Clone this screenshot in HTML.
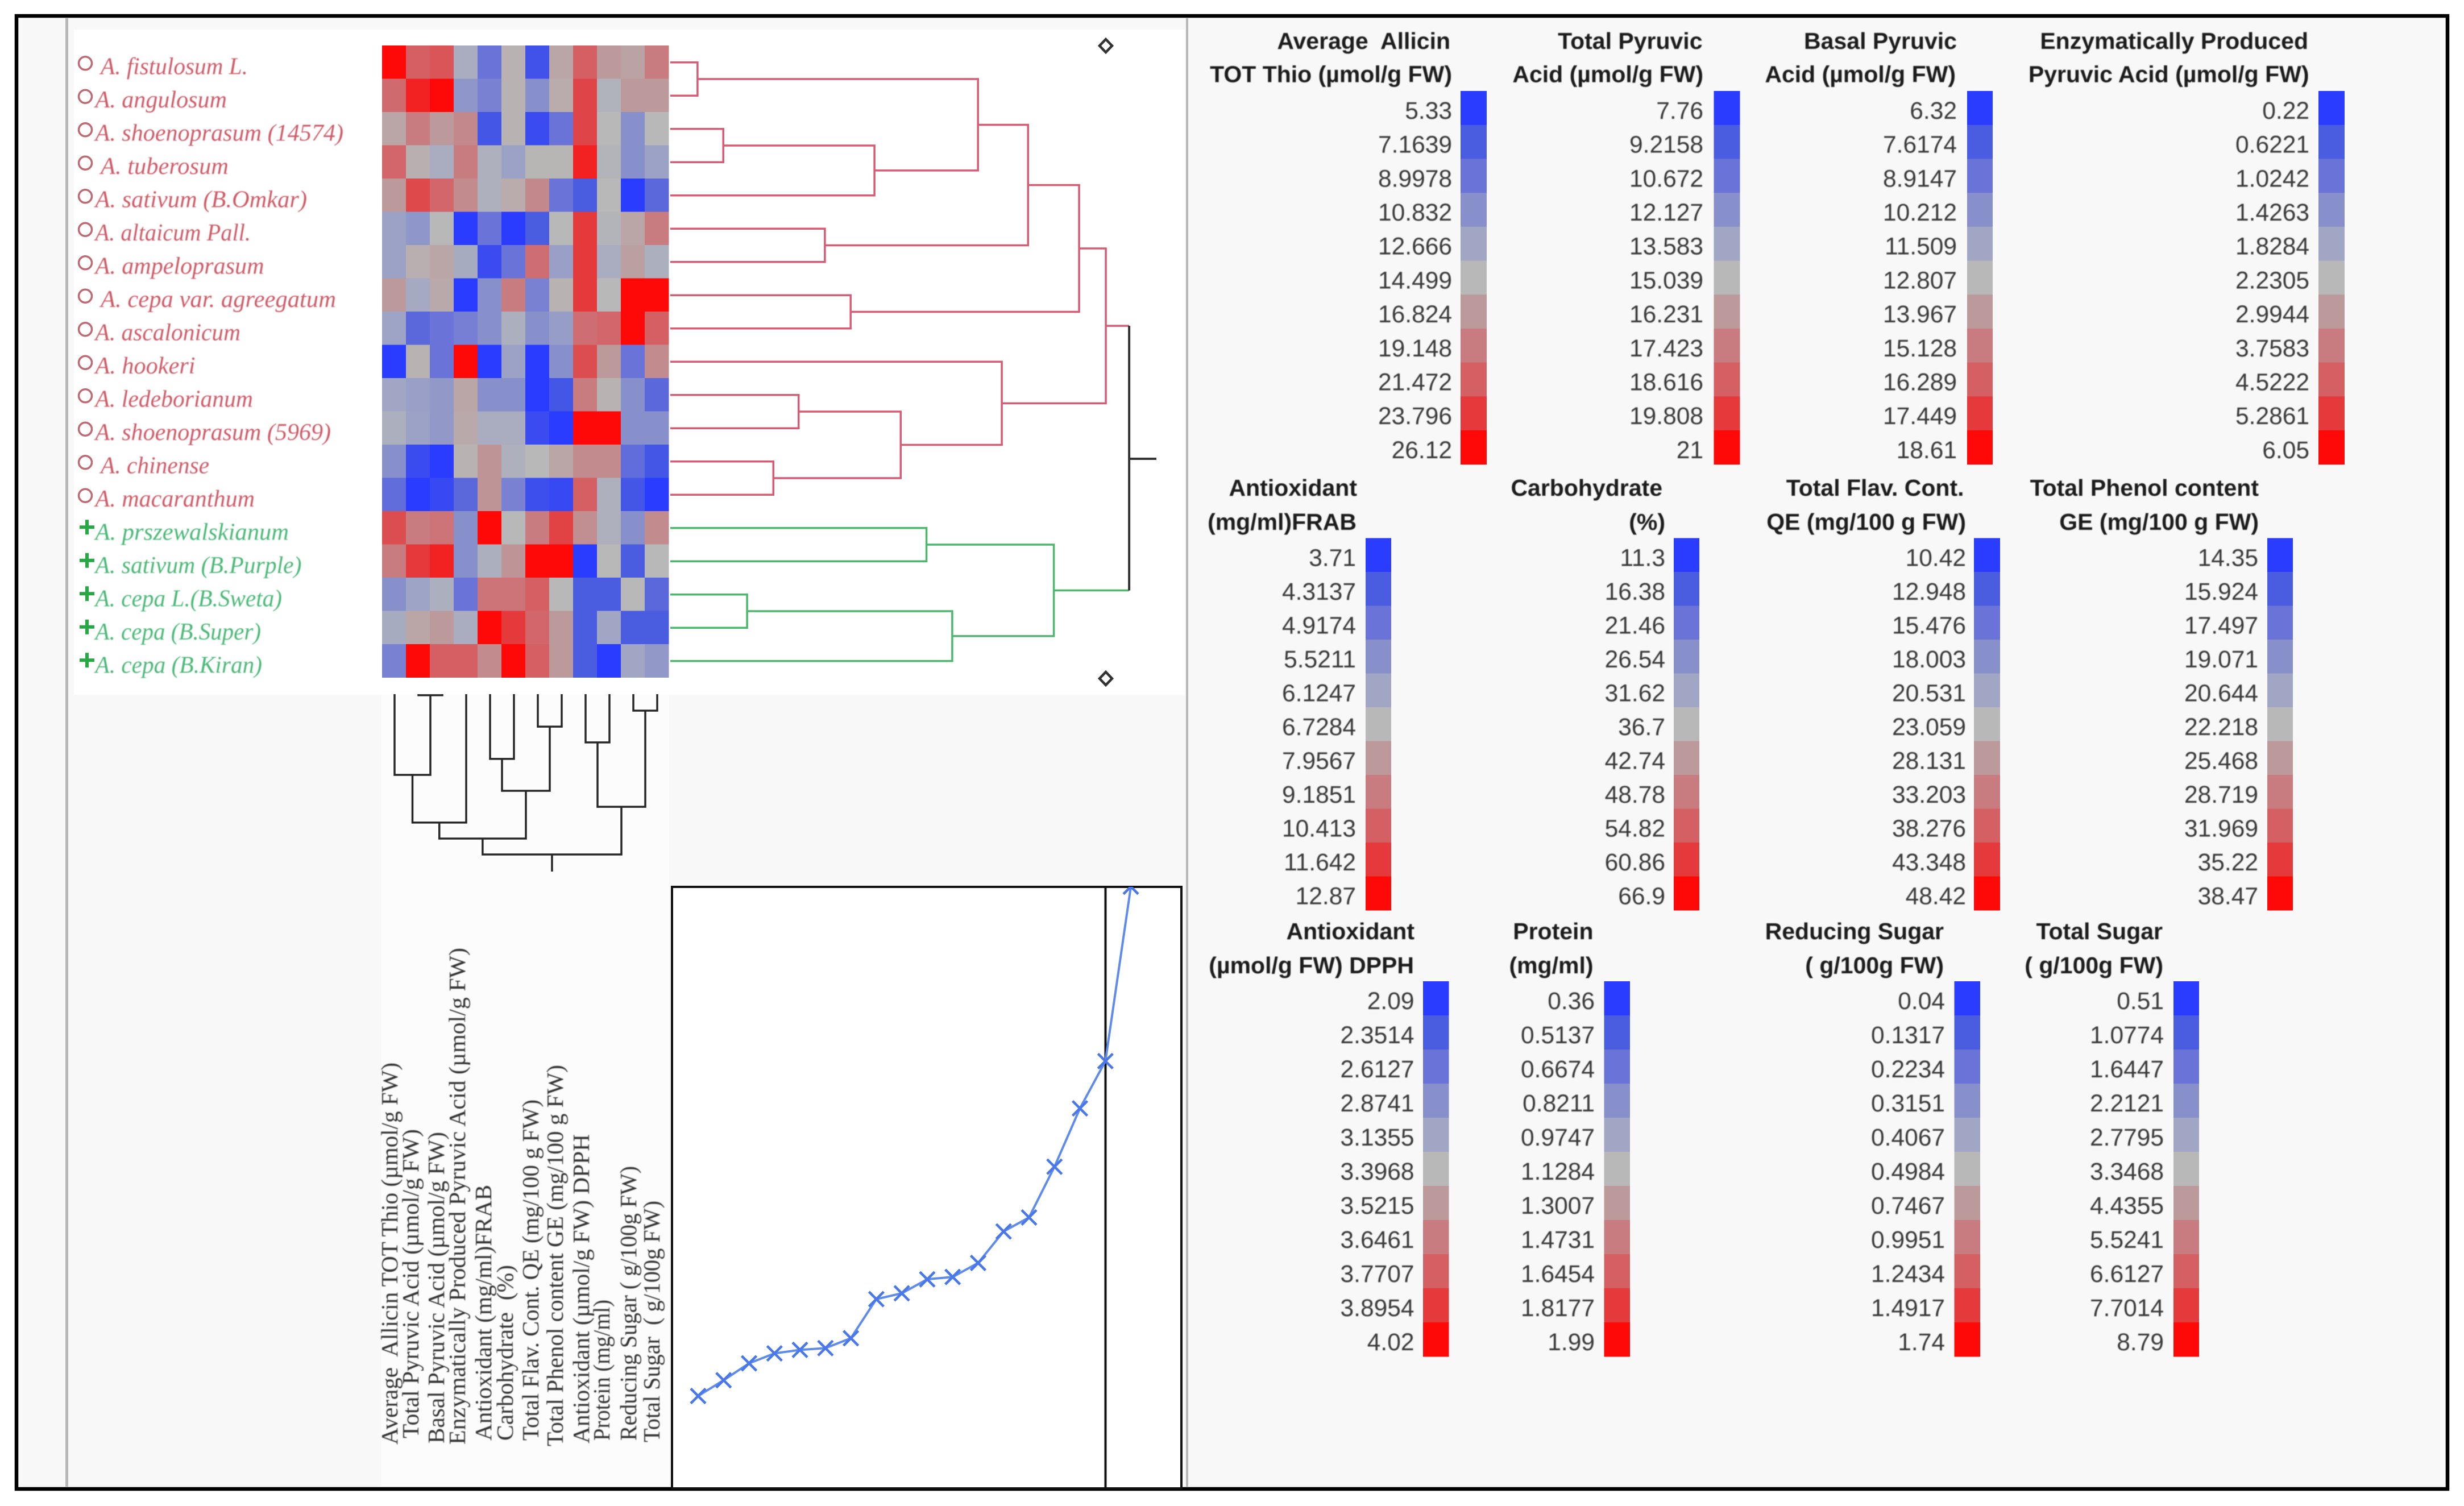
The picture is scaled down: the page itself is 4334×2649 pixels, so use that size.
<!DOCTYPE html>
<html lang="en">
<head>
<meta charset="utf-8">
<title>Allium hierarchical clustering</title>
<style>
html,body{margin:0;padding:0;background:#fff;}
svg{display:block;}
.sp{font-family:"Liberation Serif",serif;font-style:italic;font-size:42px;filter:blur(0.8px);}
.var{font-family:"Liberation Serif",serif;font-size:41px;fill:#333;white-space:pre;filter:blur(0.8px);}
.lt{font-family:"Liberation Sans",sans-serif;font-weight:bold;font-size:41px;fill:#1c1c1c;text-anchor:end;white-space:pre;filter:blur(0.7px);}
.lv{font-family:"Liberation Sans",sans-serif;font-size:42.5px;fill:#3a3a3a;text-anchor:end;filter:blur(0.7px);}
</style>
</head>
<body>
<svg id="fig" xmlns="http://www.w3.org/2000/svg" width="4334" height="2649" viewBox="0 0 4334 2649">
  <rect x="0" y="0" width="4334" height="2649" fill="#ffffff"/>
  <rect x="29" y="28" width="4276" height="2591" fill="#f8f8f8" stroke="#000000" stroke-width="6.5"/>
  <rect x="130" y="52" width="1954" height="1170" fill="#ffffff"/>
  <rect x="671" y="1222" width="506" height="1393" fill="#fcfcfc"/>
  <rect x="115" y="32" width="5" height="2584" fill="#b8b8b8"/>
  <rect x="2086" y="32" width="4" height="2584" fill="#b8b8b8"/>
  <g id="heatmap"></g>
  <g id="species"></g>
  <g id="rowDendro"></g>
  <g id="colDendro"></g>
  <g id="vars"></g>
  <path d="M1945 69 L1956 80.5 L1945 92 L1934 80.5 Z" fill="#fff" stroke="#333" stroke-width="4.5"/>
  <path d="M1945 1182 L1956 1193.5 L1945 1205 L1934 1193.5 Z" fill="#fff" stroke="#333" stroke-width="4.5"/>
  <g id="distance"></g>
  <g id="legends"></g>
</svg>
<script>
/* ---------- heatmap data ---------- */
const speciesNames = ["A. fistulosum L.","A. angulosum","A. shoenoprasum (14574)","A. tuberosum","A. sativum (B.Omkar)","A. altaicum Pall.","A. ampeloprasum","A. cepa var. agreegatum","A. ascalonicum","A. hookeri","A. ledeborianum","A. shoenoprasum (5969)","A. chinense","A. macaranthum","A. prszewalskianum","A. sativum (B.Purple)","A. cepa L.(B.Sweta)","A. cepa (B.Super)","A. cepa (B.Kiran)"];
const speciesGroups = ["o","o","o","o","o","o","o","o","o","o","o","o","o","o","+","+","+","+","+"];
const variableNames = ["Average  Allicin TOT Thio (µmol/g FW)","Total Pyruvic Acid (µmol/g FW)","Basal Pyruvic Acid (µmol/g FW)","Enzymatically Produced Pyruvic Acid (µmol/g FW)","Antioxidant (mg/ml)FRAB","Carbohydrate  (%)","Total Flav. Cont. QE (mg/100 g FW)","Total Phenol content GE (mg/100 g FW)","Antioxidant (µmol/g FW) DPPH","Protein (mg/ml)","Reducing Sugar ( g/100g FW)","Total Sugar  ( g/100g FW)"];
const heatRow00 = [10,8,8.3,4.4,2,5.2,0.7,5.6,8,6,5.7,7];
const heatRow01 = [7.6,9.5,10,3.3,2.5,5.2,3,5.4,8.7,4.7,6,6];
const heatRow02 = [5.6,7,6,6.6,0.8,5.2,0.5,2,8.7,5,3,5];
const heatRow03 = [7.8,5.3,4.4,7,4.6,3.8,5.1,5.1,9.5,4.8,3,3.8];
const heatRow04 = [6,8.6,7.8,6.5,4.6,5.4,6.6,2,1,5,0,1.5];
const heatRow05 = [3.8,3.3,5,0,2,0,1,5,9,4.8,5.6,7];
const heatRow06 = [3.8,5.3,5.6,4.3,0.5,2,7.5,3.7,9,4.4,5.8,4.5];
const heatRow07 = [6,4.2,5.5,0,3,7,2.5,5.2,9,5,10,10];
const heatRow08 = [3.9,1.5,2,2.4,3,4.5,3,3.6,7.5,7.8,10,8];
const heatRow09 = [0,5.2,2,10,0,3.8,0,3,8.5,6,2,6.5];
const heatRow10 = [4,3.7,3.4,5.6,3,3,0,0.8,7,5.2,3,1.5];
const heatRow11 = [4.5,3.8,3.4,5.5,4.4,4.4,0.5,0,10,10,3,3];
const heatRow12 = [3,0.5,0,5.2,6.2,4.6,5,5.6,6.5,6.5,1.7,0.8];
const heatRow13 = [1.7,0,0.4,1.5,6.2,2.5,0.6,0.4,8,4.6,0.8,0];
const heatRow14 = [8.5,7,7.3,3,10,5,7,8.8,6.4,4.6,3,6.5];
const heatRow15 = [7,9,9.5,3,4.5,6.2,10,10,0,5,1,5];
const heatRow16 = [3,3.9,4.5,2,7.3,7.3,8,5,1,1,5,1.5];
const heatRow17 = [4.3,5.6,6,4.4,10,9,7.8,6,1,4,1,1];
const heatRow18 = [2.5,10,8,8,6.5,10,8,6,1,0,4,3.4];
const heatValues = [heatRow00,heatRow01,heatRow02,heatRow03,heatRow04,heatRow05,heatRow06,heatRow07,heatRow08,heatRow09,heatRow10,heatRow11,heatRow12,heatRow13,heatRow14,heatRow15,heatRow16,heatRow17,heatRow18];
const paletteSteps = ["#2a3cff","#4a5ce0","#6a74d8","#8890cc","#a0a6c4","#b8b8b8","#bc9a9c","#c87c80","#d46064","#e43a3c","#ff0808"];

/* ---------- dendrogram data: [child a, child b, merge distance (0..1)] ---------- */
const rowMerges = [[0,1,.056],[2,3,.109],[20,4,.420],[19,21,.633],[5,6,.318],[22,23,.736],[7,8,.371],[24,25,.841],[10,11,.264],[12,13,.212],[27,28,.474],[9,29,.682],[26,30,.896],[14,15,.527],[16,17,.158],[33,18,.580],[32,34,.789],[31,35,.944]];
const colMerges = [[1,2,.006],[0,12,.455],[13,3,.724],[4,5,.365],[6,7,.183],[15,16,.545],[14,17,.814],[8,9,.272],[10,11,.093],[19,20,.635],[18,21,.904]];

/* ---------- distance graph data ---------- */
const joinDistances = [.127,.154,.183,.200,.206,.209,.226,.293,.303,.327,.331,.355,.409,.433,.520,.620,.701,1.0];

/* ---------- legend data ---------- */
const legendTitleA = ["Average  Allicin","Total Pyruvic","Basal Pyruvic","Enzymatically Produced","Antioxidant","Carbohydrate","Total Flav. Cont.","Total Phenol content","Antioxidant","Protein","Reducing Sugar","Total Sugar"];
const legendTitleB = ["TOT Thio (µmol/g FW)","Acid (µmol/g FW)","Acid (µmol/g FW)","Pyruvic Acid (µmol/g FW)","(mg/ml)FRAB","(%)","QE (mg/100 g FW)","GE (mg/100 g FW)","(µmol/g FW) DPPH","(mg/ml)","( g/100g FW)","( g/100g FW)"];
const legendTicks00 = ["5.33","7.1639","8.9978","10.832","12.666","14.499","16.824","19.148","21.472","23.796","26.12"];
const legendTicks01 = ["7.76","9.2158","10.672","12.127","13.583","15.039","16.231","17.423","18.616","19.808","21"];
const legendTicks02 = ["6.32","7.6174","8.9147","10.212","11.509","12.807","13.967","15.128","16.289","17.449","18.61"];
const legendTicks03 = ["0.22","0.6221","1.0242","1.4263","1.8284","2.2305","2.9944","3.7583","4.5222","5.2861","6.05"];
const legendTicks04 = ["3.71","4.3137","4.9174","5.5211","6.1247","6.7284","7.9567","9.1851","10.413","11.642","12.87"];
const legendTicks05 = ["11.3","16.38","21.46","26.54","31.62","36.7","42.74","48.78","54.82","60.86","66.9"];
const legendTicks06 = ["10.42","12.948","15.476","18.003","20.531","23.059","28.131","33.203","38.276","43.348","48.42"];
const legendTicks07 = ["14.35","15.924","17.497","19.071","20.644","22.218","25.468","28.719","31.969","35.22","38.47"];
const legendTicks08 = ["2.09","2.3514","2.6127","2.8741","3.1355","3.3968","3.5215","3.6461","3.7707","3.8954","4.02"];
const legendTicks09 = ["0.36","0.5137","0.6674","0.8211","0.9747","1.1284","1.3007","1.4731","1.6454","1.8177","1.99"];
const legendTicks10 = ["0.04","0.1317","0.2234","0.3151","0.4067","0.4984","0.7467","0.9951","1.2434","1.4917","1.74"];
const legendTicks11 = ["0.51","1.0774","1.6447","2.2121","2.7795","3.3468","4.4355","5.5241","6.6127","7.7014","8.79"];
const legendTicks = [legendTicks00,legendTicks01,legendTicks02,legendTicks03,legendTicks04,legendTicks05,legendTicks06,legendTicks07,legendTicks08,legendTicks09,legendTicks10,legendTicks11];

/* ---------- helpers ---------- */
const NS = "http://www.w3.org/2000/svg";
function mk(parent, tag, attrs, txt){
  const e = document.createElementNS(NS, tag);
  for (const k in attrs) e.setAttribute(k, attrs[k]);
  if (txt !== undefined) e.textContent = txt;
  parent.appendChild(e);
  return e;
}
function hex(c){ return [parseInt(c.slice(1,3),16),parseInt(c.slice(3,5),16),parseInt(c.slice(5,7),16)]; }
function heatColor(v){
  const t = Math.max(0, Math.min(10, v));
  const i = Math.min(9, Math.floor(t)), f = t - i;
  const a = hex(paletteSteps[i]), b = hex(paletteSteps[i+1]);
  return "rgb(" + a.map((x,n)=>Math.round(x+(b[n]-x)*f)).join(",") + ")";
}

/* ---------- axes ---------- */
const heatLeft = 672, heatTop = 80, cellW = 42, cellH = 58.5;
const colX = i => heatLeft + cellW * (i + 0.5);
const rowY = i => heatTop + cellH * (i + 0.5);
const rowDistX = d => 1179 + d * 855;
const colDistY = d => 1221 + d * 312;
const joinX = i => 1228 + i * 44.77;
const joinY = d => 2585.8 - d * 1026.2;

/* ---------- heatmap ---------- */
const heatG = document.getElementById("heatmap");
heatValues.forEach((row, r) => row.forEach((v, c) => {
  const cell = mk(heatG, "rect", {x: heatLeft + c*cellW, y: heatTop + r*cellH, width: cellW + 0.5, height: cellH + 0.5, fill: heatColor(v)});
  
  
}));

/* ---------- species labels ---------- */
const speciesIndent = [177,167.5,167.5,177,167.5,167.5,167.5,177,167.5,167.5,167.5,167.5,177,167.5,167.5,167.5,167.5,167.5,167.5];
const speciesWidth = [259,231.5,436.5,225,372.5,273.5,297,414,255.5,176,277.5,414.5,191,280.5,340.5,363,328.5,291.5,293.5];
const spG = document.getElementById("species");
speciesNames.forEach((name, i) => {
  const y = rowY(i);
  const isRed = speciesGroups[i] === "o";
  const label = mk(spG, "text", {class: "sp", x: speciesIndent[i], y: y + 21, fill: isRed ? "#cc5c68" : "#4cb878", textLength: speciesWidth[i], lengthAdjust: "spacingAndGlyphs"}, name);
  
  
  if (isRed) {
    const mark = mk(spG, "circle", {cx: 150, cy: y + 2, r: 11.5, fill: "none", stroke: "#bf6a72", "stroke-width": 3.5});
    
    
  } else {
    const mark = mk(spG, "path", {d: "M140 " + (y-1) + " H166 M153 " + (y-14) + " V" + (y+12), fill: "none", stroke: "#28a845", "stroke-width": 6});
    
    
  }
});

/* ---------- row dendrogram ---------- */
const rowG = document.getElementById("rowDendro");
const rowNodes = speciesNames.map((n, i) => ({y: rowY(i) + 0.5, x: rowDistX(0), g: speciesGroups[i]}));
const armColor = g => g === "o" ? "#d65c74" : "#4cb86c";
rowMerges.forEach(m => {
  const a = rowNodes[m[0]], b = rowNodes[m[1]];
  const x = rowDistX(m[2]);
  if (a.g === b.g) {
    const seg = mk(rowG, "path", {d: "M" + a.x + " " + a.y + " H" + x + " V" + b.y + " H" + b.x, fill: "none", stroke: armColor(a.g), "stroke-width": 3.5});
    
    
  } else {
    const armA = mk(rowG, "path", {d: "M" + a.x + " " + a.y + " H" + x, fill: "none", stroke: armColor(a.g), "stroke-width": 3.5});
    
    
    const armB = mk(rowG, "path", {d: "M" + b.x + " " + b.y + " H" + x, fill: "none", stroke: armColor(b.g), "stroke-width": 3.5});
    
    
    const spine = mk(rowG, "path", {d: "M" + x + " " + a.y + " V" + b.y + " M" + x + " 807 H" + rowDistX(1), fill: "none", stroke: "#333333", "stroke-width": 4});
    
    
  }
  rowNodes.push({y: (a.y + b.y) / 2, x: x, g: a.g === b.g ? a.g : "r"});
});

/* ---------- column dendrogram ---------- */
const colG = document.getElementById("colDendro");
const colNodes = variableNames.map((n, i) => ({x: colX(i) + 1, y: colDistY(0)}));
colMerges.forEach(m => {
  const a = colNodes[m[0]], b = colNodes[m[1]];
  const y = colDistY(m[2]);
  const seg = mk(colG, "path", {d: "M" + a.x + " " + a.y + " V" + y + " H" + b.x + " V" + b.y, fill: "none", stroke: "#262626", "stroke-width": 3.5});
  
  
  colNodes.push({x: (a.x + b.x) / 2, y: y});
});
const colRootNode = colNodes[colNodes.length - 1];
const colStem = mk(colG, "path", {d: "M" + colRootNode.x + " " + colRootNode.y + " V" + colDistY(1), fill: "none", stroke: "#262626", "stroke-width": 3.5});



/* ---------- rotated variable labels ---------- */
const varBaseline = [699,736,781,818,864,902,947,990,1036,1072,1119,1160];
const varBottom = [2541,2530,2539,2541,2534,2534,2534,2544,2539,2534,2534,2537];
const varTop = [1869,1986,1991,1667,2084,2225,1934,1873,1995,2286,2051,2112];
const varG = document.getElementById("vars");
variableNames.forEach((name, i) => {
  const t = mk(varG, "text", {class: "var", x: varBaseline[i], y: varBottom[i], transform: "rotate(-90 " + varBaseline[i] + " " + varBottom[i] + ")", textLength: varBottom[i] - varTop[i], lengthAdjust: "spacingAndGlyphs"}, name);
  
  
});

/* ---------- distance graph ---------- */
const distG = document.getElementById("distance");
const clipDefs = mk(distG, "clipPath", {id: "distClip"});
mk(clipDefs, "rect", {x: 1182, y: 1560, width: 896, height: 1056});
const distBox = mk(distG, "rect", {x: 1182, y: 1560, width: 896, height: 1058, fill: "#ffffff", stroke: "#111111", "stroke-width": 4});


const cutLine = mk(distG, "line", {x1: 1944.5, y1: 1560, x2: 1944.5, y2: 2616, stroke: "#111111", "stroke-width": 4});


const distClipped = mk(distG, "g", {"clip-path": "url(#distClip)"});
const distPath = mk(distClipped, "polyline", {points: joinDistances.map((d, i) => joinX(i) + "," + joinY(d)).join(" "), fill: "none", stroke: "#5f8cec", "stroke-width": 4});


joinDistances.forEach((d, i) => {
  const x = joinX(i), y = joinY(d), s = 13;
  const marker = mk(distClipped, "path", {d: "M" + (x-s) + " " + (y-s) + " L" + (x+s) + " " + (y+s) + " M" + (x-s) + " " + (y+s) + " L" + (x+s) + " " + (y-s), fill: "none", stroke: "#4a78ea", "stroke-width": 4.5});
  
  
});

/* ---------- legends ---------- */
const legendSwatchX = [2569,3014.5,3460,4078,2402,2944,3472,3988,2503,2821.5,3437.5,3823];
const legendSwatchW = [46,46,45,46,45,45,46,45,45.5,45.5,45.5,45];
const legendTextRight = [2554,2996,3442,4062,2385,2929,3458,3972,2487.5,2805,3421,3806];
const legendTitleRightA = [2551,2994.5,3442,4060,2387,2924,3454.5,3973,2488,2802.5,3419,3804];
const legendTitleRightB = [2554,2996,3440,4061.5,2386,2929,3458,3973,2487,2802.5,3419,3805];
const legendRowTop = [160,946.5,1726];
const legendRowStep = [59.7,59.5,60];
const legendBaseA = [86,872,1652];
const legendBaseB = [144.5,932,1712];
const legG = document.getElementById("legends");
legendTicks.forEach((ticks, k) => {
  const band = Math.floor(k / 4);
  const titleA = mk(legG, "text", {class: "lt", x: legendTitleRightA[k], y: legendBaseA[band]}, legendTitleA[k]);
  
  
  const titleB = mk(legG, "text", {class: "lt", x: legendTitleRightB[k], y: legendBaseB[band]}, legendTitleB[k]);
  
  
  ticks.forEach((tick, i) => {
    const step = legendRowStep[band];
    const top = legendRowTop[band] + i * step;
    const swatch = mk(legG, "rect", {x: legendSwatchX[k], y: top, width: legendSwatchW[k], height: step + 0.5, fill: paletteSteps[i]});
    
    
    const label = mk(legG, "text", {class: "lv", x: legendTextRight[k], y: top + step / 2 + 19}, tick);
    
    
  });
});
</script>
</body>
</html>
